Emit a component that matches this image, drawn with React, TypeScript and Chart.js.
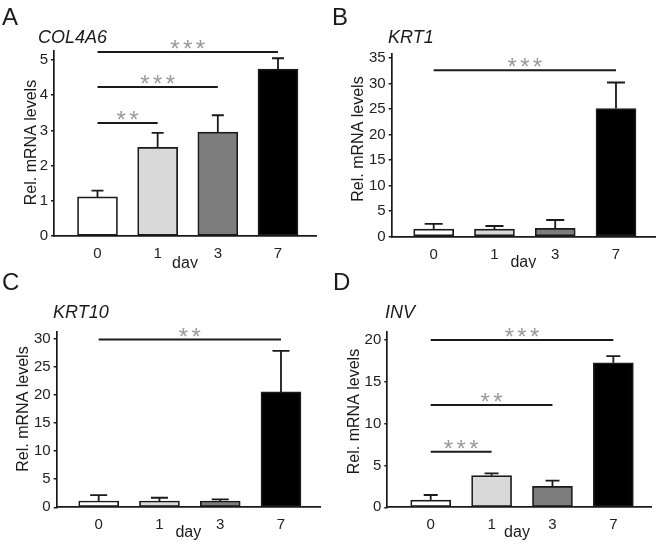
import React, { useEffect, useRef } from 'react';
import { Chart, registerables } from 'chart.js';

Chart.register(...registerables);

// ---------- data ----------
const dayLabels = ['0', '1', '3', '7'];
const barColors = ['#ffffff', '#d9d9d9', '#7d7d7d', '#000000'];

const col4a6Mean = [1.11, 2.52, 2.95, 4.74];
const col4a6Err = [0.18, 0.41, 0.48, 0.31];
const col4a6Sig: [number, number, number, string][] = [
  [0, 1, 3.21, '**'],
  [0, 2, 4.23, '***'],
  [0, 3, 5.23, '***'],
];

const krt1Mean = [1.5, 1.5, 1.65, 25.1];
const krt1Err = [1.0, 0.6, 1.62, 5.1];
const krt1Sig: [number, number, number, string][] = [[0, 3, 32.6, '***']];

const krt10Mean = [1.12, 1.12, 1.12, 20.5];
const krt10Err = [1.06, 0.58, 0.3, 7.3];
const krt10Sig: [number, number, number, string][] = [[0, 3, 29.8, '**']];

const invMean = [0.87, 3.78, 2.51, 17.29];
const invErr = [0.6, 0.28, 0.67, 0.8];
const invSig: [number, number, number, string][] = [
  [0, 1, 6.65, '***'],
  [0, 2, 12.23, '**'],
  [0, 3, 20.0, '***'],
];

const yTitleText = 'Rel. mRNA levels';
const xTitleText = 'day';

// ---------- styling ----------
const FONT = "'Liberation Sans', Arial, sans-serif";
const INK = '#1a1a1a';

const decorPlugin = {
  id: 'decor',
  afterDatasetsDraw(chart: any, _args: any, opts: any) {
    const ctx = chart.ctx;
    const xs = chart.scales.x;
    const ys = chart.scales.y;
    const meta = chart.getDatasetMeta(0);
    ctx.save();
    // error bars
    ctx.strokeStyle = INK;
    ctx.lineWidth = 1.8;
    opts.means.forEach((m: number, i: number) => {
      const el = meta.data[i];
      const x = el.x;
      const yTop = ys.getPixelForValue(m);
      const yErr = ys.getPixelForValue(m + opts.errs[i]);
      ctx.beginPath();
      ctx.moveTo(x, yTop);
      ctx.lineTo(x, yErr);
      ctx.moveTo(x - opts.cap / 2, yErr);
      ctx.lineTo(x + opts.cap / 2, yErr);
      ctx.stroke();
    });
    // significance lines
    opts.sig.forEach((s: [number, number, number, string]) => {
      const x1 = xs.getPixelForValue(s[0]);
      const x2 = xs.getPixelForValue(s[1]);
      const y = ys.getPixelForValue(s[2]);
      ctx.strokeStyle = INK;
      ctx.lineWidth = 2;
      ctx.beginPath();
      ctx.moveTo(x1, y);
      ctx.lineTo(x2, y);
      ctx.stroke();
      const n = s[3].length;
      const mid = (x1 + x2) / 2;
      ctx.fillStyle = '#9a9a9a';
      ctx.font = `24px ${FONT}`;
      ctx.textAlign = 'center';
      ctx.textBaseline = 'alphabetic';
      for (let k = 0; k < n; k++) {
        const cx = mid + (k - (n - 1) / 2) * 12.7;
        ctx.fillText('*', cx, y + 5);
      }
    });
    ctx.restore();
  },
  afterDraw(chart: any, _args: any, opts: any) {
    const ctx = chart.ctx;
    ctx.save();
    ctx.fillStyle = INK;
    ctx.textBaseline = 'alphabetic';
    ctx.textAlign = 'left';
    ctx.font = `24px ${FONT}`;
    ctx.fillText(opts.letter, opts.letterX, opts.letterY);
    ctx.font = `italic 18px ${FONT}`;
    ctx.fillText(opts.gene, opts.geneX, opts.geneY);
    // x title
    ctx.font = `16px ${FONT}`;
    ctx.textAlign = 'center';
    ctx.textBaseline = 'middle';
    ctx.fillText(xTitleText, opts.dayX, opts.dayY);
    // y title
    ctx.translate(opts.yTitleX, opts.yTitleY);
    ctx.rotate(-Math.PI / 2);
    ctx.fillText(yTitleText, 0, 0);
    ctx.restore();
  },
};

type PanelProps = {
  left: number;
  top: number;
  width: number;
  height: number;
  means: number[];
  errs: number[];
  sig: [number, number, number, string][];
  area: { left: number; right: number; top: number; bottom: number };
  yMax: number;
  step: number;
  xMin: number;
  xMax: number;
  cap: number;
  letter: string;
  letterX: number;
  letterY: number;
  gene: string;
  geneX: number;
  geneY: number;
  yTitleX: number;
  yTitleY: number;
  dayX: number;
  dayY: number;
};

function Panel(p: PanelProps) {
  const ref = useRef<HTMLCanvasElement>(null);
  useEffect(() => {
    if (!ref.current) return;
    const chart = new Chart(ref.current, {
      type: 'bar',
      data: {
        datasets: [
          {
            data: p.means.map((v, i) => ({ x: i, y: v })) as any,
            backgroundColor: barColors,
            borderColor: INK,
            borderWidth: 1.7,
            borderSkipped: false,
            barThickness: 40,
          },
        ],
      },
      options: {
        animation: false,
        responsive: false,
        devicePixelRatio: 1,
        events: [],
        layout: {
          padding: { left: 0, top: p.area.top, right: p.width - p.area.right, bottom: 0 },
        },
        plugins: {
          legend: { display: false },
          tooltip: { enabled: false },
          decor: {
            means: p.means,
            errs: p.errs,
            sig: p.sig,
            cap: p.cap,
            letter: p.letter,
            letterX: p.letterX,
            letterY: p.letterY,
            gene: p.gene,
            geneX: p.geneX,
            geneY: p.geneY,
            yTitleX: p.yTitleX,
            yTitleY: p.yTitleY,
            dayX: p.dayX,
            dayY: p.dayY,
          },
        } as any,
        scales: {
          x: {
            type: 'linear',
            offset: false,
            min: p.xMin,
            max: p.xMax,
            afterFit: (s: any) => {
              s.height = p.height - p.area.bottom;
            },
            afterBuildTicks: (s: any) => {
              s.ticks = dayLabels.map((_, i) => ({ value: i }));
            },
            ticks: {
              callback: (v: any) => dayLabels[v] ?? '',
              font: { family: FONT, size: 15 },
              color: '#222',
              padding: 1,
              maxRotation: 0,
              autoSkip: false,
            },
            grid: { display: false },
            border: { display: true, color: INK, width: 1.7 },
          },
          y: {
            min: 0,
            max: p.yMax,
            afterFit: (s: any) => {
              s.width = p.area.left;
            },
            ticks: {
              stepSize: p.step,
              includeBounds: false,
              font: { family: FONT, size: 15 },
              color: '#222',
              padding: 3,
            },
            grid: {
              display: true,
              drawOnChartArea: false,
              drawTicks: true,
              tickLength: 3,
              color: INK,
              lineWidth: 1.5,
            },
            border: { display: true, color: INK, width: 1.7 },
          },
        } as any,
      },
      plugins: [decorPlugin as any],
    });
    return () => chart.destroy();
  }, []);
  return (
    <canvas
      ref={ref}
      width={p.width}
      height={p.height}
      style={{ position: 'absolute', left: p.left, top: p.top, width: p.width, height: p.height }}
    />
  );
}

export default function App() {
  return (
    <div style={{ position: 'absolute', left: 0, top: 0, width: 660, height: 549, background: '#fff', overflow: 'hidden' }}>
      <Panel
        left={0} top={0} width={330} height={268}
        means={col4a6Mean} errs={col4a6Err} sig={col4a6Sig}
        area={{ left: 54, right: 316, top: 50.5, bottom: 236 }}
        yMax={5.27} step={1} xMin={-0.723} xMax={3.632} cap={12}
        letter="A" letterX={2} letterY={25}
        gene="COL4A6" geneX={38} geneY={43}
        yTitleX={31.7} yTitleY={142.5} dayX={185} dayY={263.5}
      />
      <Panel
        left={330} top={0} width={330} height={268}
        means={krt1Mean} errs={krt1Err} sig={krt1Sig}
        area={{ left: 61.7, right: 325, top: 54, bottom: 236.7 }}
        yMax={35.78} step={5} xMin={-0.691} xMax={3.642} cap={18}
        letter="B" letterX={2} letterY={25}
        gene="KRT1" geneX={58} geneY={43}
        yTitleX={28.5} yTitleY={139} dayX={193.3} dayY={262.5}
      />
      <Panel
        left={0} top={268} width={330} height={281}
        means={krt10Mean} errs={krt10Err} sig={krt10Sig}
        area={{ left: 56.7, right: 320, top: 63.7, bottom: 239.3 }}
        yMax={31.2} step={5} xMin={-0.691} xMax={3.642} cap={17}
        letter="C" letterX={2} letterY={22}
        gene="KRT10" geneX={53} geneY={50.3}
        yTitleX={23.5} yTitleY={141} dayX={188.3} dayY={265}
      />
      <Panel
        left={330} top={268} width={330} height={281}
        means={invMean} errs={invErr} sig={invSig}
        area={{ left: 57.3, right: 321.7, top: 63.7, bottom: 239.3 }}
        yMax={21.0} step={5} xMin={-0.713} xMax={3.63} cap={14}
        letter="D" letterX={3} letterY={22}
        gene="INV" geneX={55} geneY={50.3}
        yTitleX={25} yTitleY={143.5} dayX={187} dayY={265}
      />
    </div>
  );
}
